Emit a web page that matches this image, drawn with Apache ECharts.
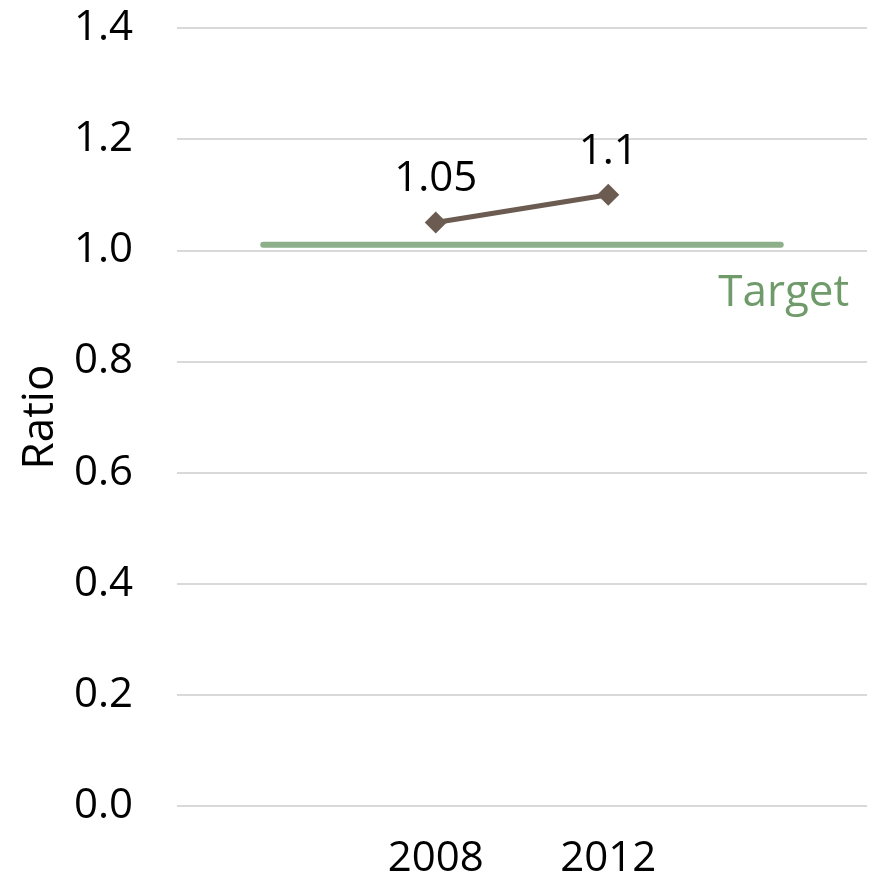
<!DOCTYPE html>
<html>
<head>
<meta charset="utf-8">
<script src="https://cdn.jsdelivr.net/npm/echarts@6/dist/echarts.min.js"></script>
<style>
  html, body { margin: 0; padding: 0; background: #fff; }
  #chart { width: 872px; height: 882px; }
</style>
</head>
<body>
<div id="chart"></div>
<script>
var categories = ['', '2008', '2012', ''];
var ratioValues = [null, 1.05, 1.1, null];
var targetValues = [1.01, 1.01, 1.01, 1.01];
var yTicks = [0, 0.2, 0.4, 0.6, 0.8, 1.0, 1.2, 1.4];

var fontName = '"Open Sans", Lato, sans-serif';

var myChart = echarts.init(document.getElementById('chart'));
var option = {
  animation: false,
  grid: {
    left: 177,
    right: 5,
    top: 28,
    bottom: 76
  },
  xAxis: {
    type: 'category',
    data: categories,
    boundaryGap: true,
    axisLine: { show: false },
    axisTick: { show: false },
    axisLabel: {
      color: '#000',
      fontSize: 42,
      fontFamily: fontName,
      margin: 32
    }
  },
  yAxis: {
    type: 'value',
    min: yTicks[0],
    max: yTicks[yTicks.length - 1],
    interval: 0.2,
    name: 'Ratio',
    nameLocation: 'middle',
    nameGap: 115,
    nameTextStyle: {
      color: '#000',
      fontSize: 44,
      fontFamily: fontName
    },
    axisLine: { show: false },
    axisTick: { show: false },
    splitLine: {
      lineStyle: { color: '#d9d9d9', width: 2 }
    },
    axisLabel: {
      color: '#000',
      fontSize: 42,
      fontFamily: fontName,
      margin: 44,
      formatter: function (v) { return v.toFixed(1); }
    }
  },
  series: [
    {
      name: 'Target',
      type: 'line',
      data: targetValues,
      symbol: 'none',
      z: 1,
      lineStyle: { color: '#8db08a', width: 6, cap: 'round' },
      endLabel: {
        show: true,
        formatter: 'Target',
        color: '#6f9a6a',
        fontSize: 44,
        fontFamily: fontName,
        align: 'center',
        offset: [-5, 49]
      }
    },
    {
      name: 'Ratio',
      type: 'line',
      data: ratioValues,
      symbol: 'diamond',
      symbolSize: 22,
      z: 3,
      itemStyle: { color: '#6b5b50' },
      lineStyle: { color: '#6b5b50', width: 5 },
      label: {
        show: true,
        position: 'top',
        distance: 11,
        color: '#000',
        fontSize: 42,
        fontFamily: fontName
      }
    }
  ]
};
myChart.setOption(option, true);
</script>
</body>
</html>
